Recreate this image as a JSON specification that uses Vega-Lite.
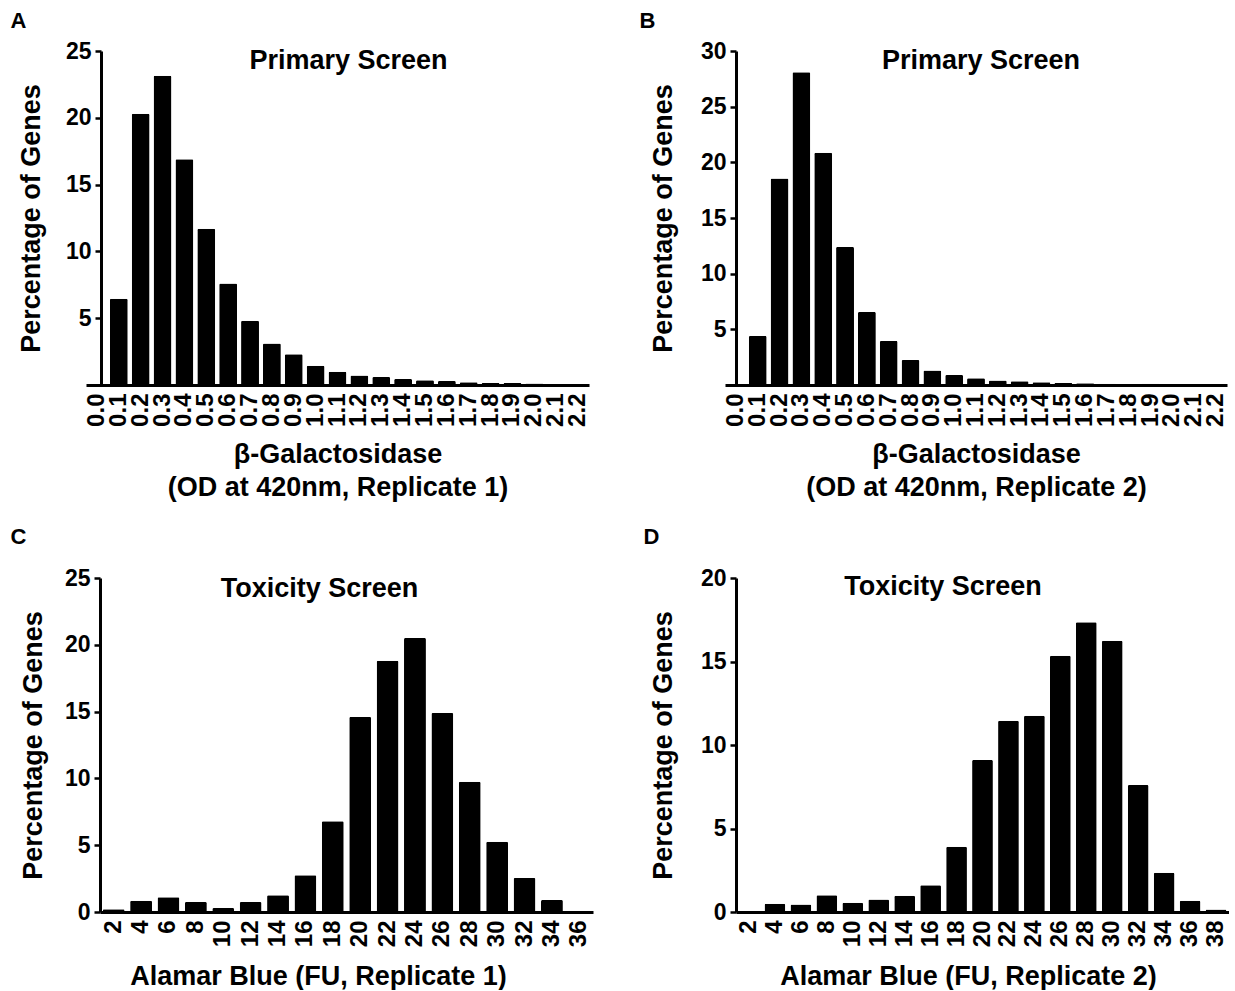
{
  "$schema": "https://vega.github.io/schema/vega-lite/v6.json",
  "padding": {"left": 10, "top": 10, "right": 0, "bottom": 0},
  "background": "white",
  "config": {
    "font": "Liberation Sans",
    "view": {"stroke": null},
    "axis": {
      "labelFont": "Liberation Sans", "labelFontWeight": "bold", "labelFontSize": 24, "labelColor": "black",
      "titleFont": "Liberation Sans", "titleFontWeight": "bold", "titleFontSize": 27, "titleColor": "black",
      "domainColor": "black", "domainWidth": 3, "tickColor": "black", "tickWidth": 2.5, "grid": false
    },
    "axisY": {"tickSize": 6, "labelPadding": 4, "labelFontSize": 23},
    "axisX": {"ticks": false, "labelAngle": -90, "labelPadding": 8, "titlePadding": 15, "titleLineHeight": 33},
    "title": {"font": "Liberation Sans", "fontWeight": "bold", "color": "black"}
  },
  "datasets": {
    "A": [
      {"bin": "0.0", "pct": 0}, {"bin": "0.1", "pct": 6.45}, {"bin": "0.2", "pct": 20.3}, {"bin": "0.3", "pct": 23.15},
      {"bin": "0.4", "pct": 16.9}, {"bin": "0.5", "pct": 11.7}, {"bin": "0.6", "pct": 7.6}, {"bin": "0.7", "pct": 4.8},
      {"bin": "0.8", "pct": 3.1}, {"bin": "0.9", "pct": 2.3}, {"bin": "1.0", "pct": 1.45}, {"bin": "1.1", "pct": 1.0},
      {"bin": "1.2", "pct": 0.72}, {"bin": "1.3", "pct": 0.6}, {"bin": "1.4", "pct": 0.45}, {"bin": "1.5", "pct": 0.35},
      {"bin": "1.6", "pct": 0.3}, {"bin": "1.7", "pct": 0.2}, {"bin": "1.8", "pct": 0.15}, {"bin": "1.9", "pct": 0.15},
      {"bin": "2.0", "pct": 0.12}, {"bin": "2.1", "pct": 0}, {"bin": "2.2", "pct": 0}
    ],
    "B": [
      {"bin": "0.0", "pct": 0}, {"bin": "0.1", "pct": 4.4}, {"bin": "0.2", "pct": 18.55}, {"bin": "0.3", "pct": 28.1},
      {"bin": "0.4", "pct": 20.85}, {"bin": "0.5", "pct": 12.4}, {"bin": "0.6", "pct": 6.55}, {"bin": "0.7", "pct": 3.95},
      {"bin": "0.8", "pct": 2.25}, {"bin": "0.9", "pct": 1.3}, {"bin": "1.0", "pct": 0.9}, {"bin": "1.1", "pct": 0.6},
      {"bin": "1.2", "pct": 0.4}, {"bin": "1.3", "pct": 0.33}, {"bin": "1.4", "pct": 0.24}, {"bin": "1.5", "pct": 0.18},
      {"bin": "1.6", "pct": 0.15}, {"bin": "1.7", "pct": 0.12}, {"bin": "1.8", "pct": 0}, {"bin": "1.9", "pct": 0.12},
      {"bin": "2.0", "pct": 0}, {"bin": "2.1", "pct": 0}, {"bin": "2.2", "pct": 0}
    ],
    "C": [
      {"fu": 2, "pct": 0.2}, {"fu": 4, "pct": 0.85}, {"fu": 6, "pct": 1.1}, {"fu": 8, "pct": 0.75},
      {"fu": 10, "pct": 0.3}, {"fu": 12, "pct": 0.75}, {"fu": 14, "pct": 1.25}, {"fu": 16, "pct": 2.75},
      {"fu": 18, "pct": 6.8}, {"fu": 20, "pct": 14.6}, {"fu": 22, "pct": 18.8}, {"fu": 24, "pct": 20.5},
      {"fu": 26, "pct": 14.9}, {"fu": 28, "pct": 9.75}, {"fu": 30, "pct": 5.25}, {"fu": 32, "pct": 2.55},
      {"fu": 34, "pct": 0.9}, {"fu": 36, "pct": 0}
    ],
    "D": [
      {"fu": 2, "pct": 0}, {"fu": 4, "pct": 0.5}, {"fu": 6, "pct": 0.45}, {"fu": 8, "pct": 1.0},
      {"fu": 10, "pct": 0.55}, {"fu": 12, "pct": 0.75}, {"fu": 14, "pct": 0.97}, {"fu": 16, "pct": 1.6},
      {"fu": 18, "pct": 3.9}, {"fu": 20, "pct": 9.1}, {"fu": 22, "pct": 11.45}, {"fu": 24, "pct": 11.75},
      {"fu": 26, "pct": 15.35}, {"fu": 28, "pct": 17.35}, {"fu": 30, "pct": 16.25}, {"fu": 32, "pct": 7.6},
      {"fu": 34, "pct": 2.35}, {"fu": 36, "pct": 0.68}, {"fu": 38, "pct": 0.15}
    ]
  },
  "columns": 2,
  "align": "each",
  "spacing": {"row": 25, "column": 46},
  "concat": [
    {
      "title": {"text": "A", "anchor": "start", "fontSize": 22, "offset": 7, "dx": -7},
      "vconcat": [
        {
          "data": {"name": "A"},
          "width": 503, "height": 334,
          "title": {"text": "Primary Screen", "fontSize": 27, "anchor": "middle", "baseline": "top", "offset": -35, "dx": 11},
          "mark": {"type": "bar", "color": "black", "cornerRadiusEnd": 1.5},
          "encoding": {
            "x": {"field": "bin", "type": "ordinal", "sort": null,
                  "scale": {"paddingInner": 0.18, "paddingOuter": 0.09},
                  "axis": {"title": ["β-Galactosidase", "(OD at 420nm, Replicate 1)"]}},
            "y": {"field": "pct", "type": "quantitative", "scale": {"domain": [0, 25], "nice": false},
                  "axis": {"title": "Percentage of Genes", "values": [5, 10, 15, 20, 25], "offset": -15, "titlePadding": 20}}
          }
        }
      ]
    },
    {
      "title": {"text": "B", "anchor": "start", "fontSize": 22, "offset": 7, "dx": -10},
      "vconcat": [
        {
          "data": {"name": "B"},
          "width": 502, "height": 334,
          "title": {"text": "Primary Screen", "fontSize": 27, "anchor": "middle", "baseline": "top", "offset": -35, "dx": 5},
          "mark": {"type": "bar", "color": "black", "cornerRadiusEnd": 1.5},
          "encoding": {
            "x": {"field": "bin", "type": "ordinal", "sort": null,
                  "scale": {"paddingInner": 0.18, "paddingOuter": 0.09},
                  "axis": {"title": ["β-Galactosidase", "(OD at 420nm, Replicate 2)"]}},
            "y": {"field": "pct", "type": "quantitative", "scale": {"domain": [0, 30], "nice": false},
                  "axis": {"title": "Percentage of Genes", "values": [5, 10, 15, 20, 25, 30], "offset": -11, "titlePadding": 23}}
          }
        }
      ]
    },
    {
      "title": {"text": "C", "anchor": "start", "fontSize": 22, "offset": 18, "dx": -9},
      "vconcat": [
        {
          "data": {"name": "C"},
          "width": 507, "height": 334,
          "title": {"text": "Toxicity Screen", "fontSize": 27, "anchor": "middle", "baseline": "top", "offset": -36, "dx": -20},
          "mark": {"type": "bar", "color": "black", "cornerRadiusEnd": 1.5},
          "encoding": {
            "x": {"field": "fu", "type": "ordinal", "sort": null,
                  "scale": {"paddingInner": 0.2, "paddingOuter": 0.1, "range": [14, 507]},
                  "axis": {"title": "Alamar Blue (FU, Replicate 1)", "titlePadding": 17, "titleX": 232}},
            "y": {"field": "pct", "type": "quantitative", "scale": {"domain": [0, 25], "nice": false},
                  "axis": {"title": "Percentage of Genes", "values": [0, 5, 10, 15, 20, 25], "offset": -14, "titlePadding": 17}}
          }
        }
      ]
    },
    {
      "title": {"text": "D", "anchor": "start", "fontSize": 22, "offset": 18, "dx": -6},
      "vconcat": [
        {
          "data": {"name": "D"},
          "width": 504, "height": 334,
          "title": {"text": "Toxicity Screen", "fontSize": 27, "anchor": "middle", "baseline": "top", "offset": -34, "dx": -34},
          "mark": {"type": "bar", "color": "black", "cornerRadiusEnd": 1.5},
          "encoding": {
            "x": {"field": "fu", "type": "ordinal", "sort": null,
                  "scale": {"paddingInner": 0.2, "paddingOuter": 0.1, "range": [11, 504]},
                  "axis": {"title": "Alamar Blue (FU, Replicate 2)", "titlePadding": 17, "titleX": 243}},
            "y": {"field": "pct", "type": "quantitative", "scale": {"domain": [0, 20], "nice": false},
                  "axis": {"title": "Percentage of Genes", "values": [0, 5, 10, 15, 20], "offset": -11, "titlePadding": 23}}
          }
        }
      ]
    }
  ]
}
